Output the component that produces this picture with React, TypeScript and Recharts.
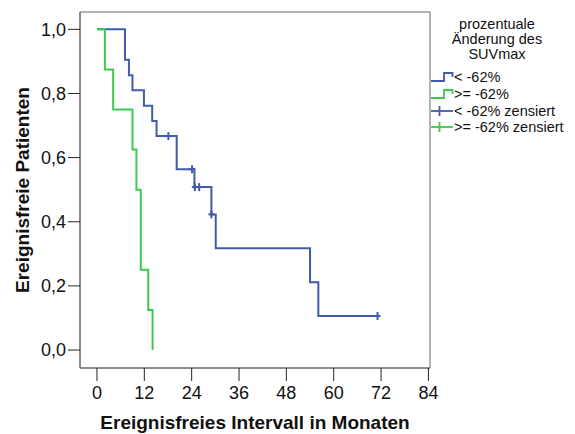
import {
  ComposedChart,
  Line,
  Scatter,
  XAxis,
  YAxis,
  Legend,
  ReferenceArea,
} from 'recharts';

// Kaplan-Meier steps, group "< -62%"
const blueTimes = [0, 7.1, 8.1, 9.0, 11.9, 14.0, 15.1, 20.2, 24.7, 29.0, 30.1, 54.0, 56.1, 71.1];
const blueSurv = [1, 0.905, 0.857, 0.81, 0.762, 0.714, 0.667, 0.564, 0.508, 0.423, 0.317, 0.211, 0.106, 0.106];
const blueCensorTimes = [18.1, 24.1, 24.8, 25.9, 29.0, 71.1];
const blueCensorSurv = [0.667, 0.564, 0.508, 0.508, 0.423, 0.106];

// group ">= -62%"
const greenTimes = [0, 2.0, 4.1, 9.0, 10.0, 11.1, 13.0, 14.1];
const greenSurv = [1, 0.875, 0.75, 0.625, 0.5, 0.25, 0.125, 0];

const xTicks = [0, 12, 24, 36, 48, 60, 72, 84];
const yTicks = [0, 0.2, 0.4, 0.6, 0.8, 1.0];

const legendTitle = ['prozentuale', 'Änderung des', 'SUVmax'];
const legendItems = [
  { label: '< -62%', color: '#3f5bab', kind: 'step' },
  { label: '>= -62%', color: '#3cc94d', kind: 'step' },
  { label: '< -62% zensiert', color: '#3f5bab', kind: 'cross' },
  { label: '>= -62% zensiert', color: '#3cc94d', kind: 'cross' },
];

const BLUE = '#3f5bab';
const GREEN = '#3cc94d';
const FONT = '"Liberation Sans", Arial, sans-serif';

const xDomain = [-4.3, 84.4];
const yDomain = [-0.056, 1.054];

const toPoints = (xs: number[], ys: number[]) => xs.map((t, i) => ({ t, s: ys[i] }));

const blueData = toPoints(blueTimes, blueSurv);
const greenData = toPoints(greenTimes, greenSurv);
const blueCensor = toPoints(blueCensorTimes, blueCensorSurv);

const CensorMark = (props: any) => {
  const { cx, cy } = props;
  if (cx == null || cy == null) return null;
  return (
    <g>
      <line x1={cx} y1={cy - 4} x2={cx} y2={cy + 4} stroke={BLUE} strokeWidth={2} />
      <line x1={cx - 3} y1={cy} x2={cx + 3} y2={cy} stroke={BLUE} strokeWidth={2} />
    </g>
  );
};

const LegendBox = () => (
  <div style={{ fontFamily: FONT, fontSize: 14.5, color: '#111' }}>
    <div style={{ width: 132, textAlign: 'center', lineHeight: '15px' }}>
      {legendTitle.map((l) => (
        <div key={l}>{l}</div>
      ))}
    </div>
    <div style={{ marginTop: 7 }}>
      {legendItems.map((it) => (
        <div key={it.label} style={{ display: 'flex', alignItems: 'center', height: 16.7, lineHeight: '16px' }}>
          <svg width={23} height={12} style={{ marginRight: 0 }}>
            {it.kind === 'step' ? (
              <path d="M0 10 H13 V2 H21.5 V6" fill="none" stroke={it.color} strokeWidth={1.8} />
            ) : (
              <g>
                <line x1={0} y1={6} x2={22} y2={6} stroke={it.color} strokeWidth={1.8} />
                <line x1={8.5} y1={1} x2={8.5} y2={11} stroke={it.color} strokeWidth={1.8} />
              </g>
            )}
          </svg>
          <span>{it.label}</span>
        </div>
      ))}
    </div>
  </div>
);

export default function App() {
  return (
    <ComposedChart
      width={567}
      height={426}
      margin={{ top: 4, right: 145, left: 0, bottom: 0 }}
      style={{ fontFamily: FONT }}
    >
      <XAxis
        dataKey="t"
        type="number"
        domain={xDomain}
        allowDataOverflow
        ticks={xTicks}
        height={66}
        tickSize={13}
        tickMargin={5}
        stroke="#666"
        tickLine={{ stroke: '#222' }}
        tick={{ fill: '#111', fontSize: 18 }}
        label={{
          content: () => (
            <text x={247} y={421} textAnchor="middle" fontSize={19} fontWeight="bold" fill="#111">
              Ereignisfreies Intervall in Monaten
            </text>
          ),
        }}
      />
      <YAxis
        dataKey="s"
        type="number"
        domain={yDomain}
        allowDataOverflow
        ticks={yTicks}
        width={72}
        tickSize={12}
        tickMargin={2}
        stroke="#666"
        tickLine={{ stroke: '#222' }}
        tick={{ fill: '#111', fontSize: 18 }}
        tickFormatter={(v: number) => v.toFixed(1).replace('.', ',')}
        label={{
          content: () => (
            <text
              x={14}
              y={182}
              transform="rotate(-90 14 182)"
              textAnchor="middle"
              dominantBaseline="central"
              fontSize={19}
              fontWeight="bold"
              fill="#111"
            >
              Ereignisfreie Patienten
            </text>
          ),
        }}
      />
      <ReferenceArea
        x1={xDomain[0]}
        x2={xDomain[1]}
        y1={yDomain[0]}
        y2={yDomain[1]}
        fill="none"
        stroke="#666"
        strokeWidth={1}
      />
      <Line
        data={blueData}
        dataKey="s"
        type="stepAfter"
        stroke={BLUE}
        strokeWidth={2}
        dot={false}
        isAnimationActive={false}
      />
      <Line
        data={greenData}
        dataKey="s"
        type="stepAfter"
        stroke={GREEN}
        strokeWidth={2}
        dot={false}
        isAnimationActive={false}
      />
      <Scatter data={blueCensor} dataKey="s" shape={<CensorMark />} isAnimationActive={false} />
      <Legend
        layout="horizontal"
        align="center"
        verticalAlign="middle"
        wrapperStyle={{ left: 423, top: 9, width: 144 }}
        content={() => <LegendBox />}
      />
    </ComposedChart>
  );
}
